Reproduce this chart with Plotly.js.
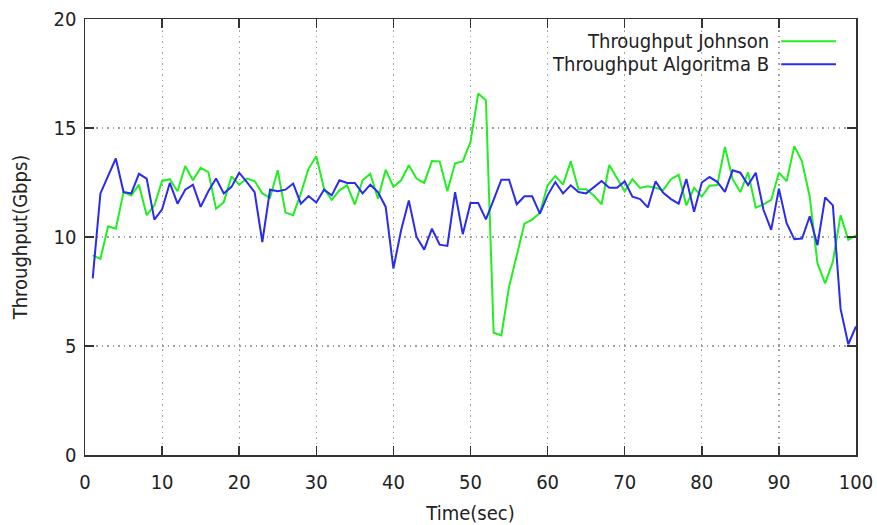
<!DOCTYPE html>
<html>
<head>
<meta charset="utf-8">
<script src="https://cdn.plot.ly/plotly-3.0.1.min.js"></script>
<style>html,body{margin:0;padding:0;background:#fff}#chart{width:877px;height:525px}</style>
</head>
<body>
<div id="chart"></div>
<script>
const timeSec = [];
for (let i = 1; i <= 100; i++) timeSec.push(i);

const johnson = [
  9.16, 9.0, 10.49, 10.38, 12.06, 11.9, 12.4, 11.0, 11.45, 12.57,
  12.65, 12.1, 13.26, 12.6, 13.17, 12.98, 11.3, 11.6, 12.78, 12.4,
  12.68, 12.57, 12.0, 11.8, 13.06, 11.12, 11.0, 12.0, 13.14, 13.7,
  12.22, 11.7, 12.14, 12.37, 11.49, 12.6, 12.9, 11.76, 13.09, 12.3,
  12.6, 13.29, 12.68, 12.48, 13.49, 13.47, 12.1, 13.38, 13.47, 14.36,
  16.58, 16.27, 5.61, 5.49, 7.71, 9.15, 10.61, 10.8, 11.1, 12.37,
  12.8, 12.4, 13.47, 12.19, 12.19, 11.9, 11.5, 13.3, 12.7, 12.1,
  12.65, 12.25, 12.33, 12.26, 12.15, 12.65, 12.85, 11.45, 12.25, 11.85,
  12.35, 12.38, 14.13, 12.65, 12.06, 12.96, 11.35, 11.5, 11.7, 12.95,
  12.56, 14.17, 13.46, 11.85, 8.8, 7.87, 8.87, 11.0, 9.87, 10.08
];

const algoritmaB = [
  8.1, 12.0, 12.8, 13.6, 12.06, 12.0, 12.9, 12.68, 10.8, 11.27,
  12.48, 11.53, 12.17, 12.4, 11.38, 12.1, 12.68, 12.0, 12.3, 12.95,
  12.52, 12.06, 9.77, 12.17, 12.1, 12.17, 12.45, 11.53, 11.88, 11.58,
  12.17, 11.91, 12.6, 12.48, 12.48, 12.0, 12.4, 12.06, 11.38, 8.55,
  10.31, 11.68, 10.0, 9.42, 10.38, 9.65, 9.59, 12.06, 10.13, 11.56,
  11.56, 10.81, 11.7, 12.63, 12.63, 11.5, 11.87, 11.87, 11.07, 11.91,
  12.52, 12.0, 12.37, 12.06, 12.0, 12.3, 12.57, 12.26, 12.26, 12.55,
  11.85, 11.74, 11.36, 12.55, 12.03, 11.74, 11.53, 12.66, 11.16, 12.5,
  12.75, 12.53, 12.07, 13.06, 12.95, 12.38, 12.95, 11.25, 10.33, 12.22,
  10.63, 9.9, 9.93, 10.95, 9.62, 11.82, 11.45, 6.7, 5.08, 5.9
];

const seriesNames = ["Throughput Johnson", "Throughput Algoritma B"];
const seriesColors = ["#22ee22", "#2b2bf0"];

const FONT = "'DejaVu Sans Condensed', 'DejaVu Sans', sans-serif";

const traces = [
  {x: timeSec, y: johnson, name: seriesNames[0], type: "scatter", mode: "lines",
   line: {color: seriesColors[0], width: 2}},
  {x: timeSec, y: algoritmaB, name: seriesNames[1], type: "scatter", mode: "lines",
   line: {color: seriesColors[1], width: 2}}
];

const axisCommon = {
  showline: true, linecolor: "#333", linewidth: 1.5, mirror: "ticks",
  ticks: "inside", ticklen: 9, tickwidth: 1.5, tickcolor: "#333",
  showgrid: true, gridcolor: "#a0a0a0", griddash: "1.5px,4px", gridwidth: 1.2,
  zeroline: false, tickfont: {family: FONT, size: 20, color: "#222"}
};

const legendAnn = [];
const legendShapes = [];
const legY = [0.949, 0.896];
seriesNames.forEach((n, i) => {
  legendAnn.push({xref: "paper", yref: "paper", x: 0.89, y: legY[i], xanchor: "right", yanchor: "middle",
    text: n, showarrow: false, font: {family: FONT, size: 20, color: "#222"}});
  legendShapes.push({type: "line", xref: "paper", yref: "paper", x0: 0.903, x1: 0.974, y0: legY[i], y1: legY[i],
    line: {color: seriesColors[i], width: 2}});
});

const layout = {
  width: 877, height: 525,
  margin: {l: 85, r: 21, t: 19, b: 70},
  paper_bgcolor: "#fff", plot_bgcolor: "#fff",
  showlegend: false,
  xaxis: Object.assign({}, axisCommon, {
    range: [0, 100], tickvals: [0,10,20,30,40,50,60,70,80,90,100],
    ticklabelstandoff: 8,
    title: {text: "Time(sec)", font: {family: FONT, size: 20, color: "#222"}, standoff: 22}
  }),
  yaxis: Object.assign({}, axisCommon, {
    range: [0, 20], tickvals: [0,5,10,15,20],
    ticklabelstandoff: 3,
    title: {text: "Throughput(Gbps)", font: {family: FONT, size: 20, color: "#222"}, standoff: 20}
  }),
  annotations: legendAnn,
  shapes: legendShapes
};

Plotly.newPlot("chart", traces, layout, {displayModeBar: false, staticPlot: true});
</script>
</body>
</html>
